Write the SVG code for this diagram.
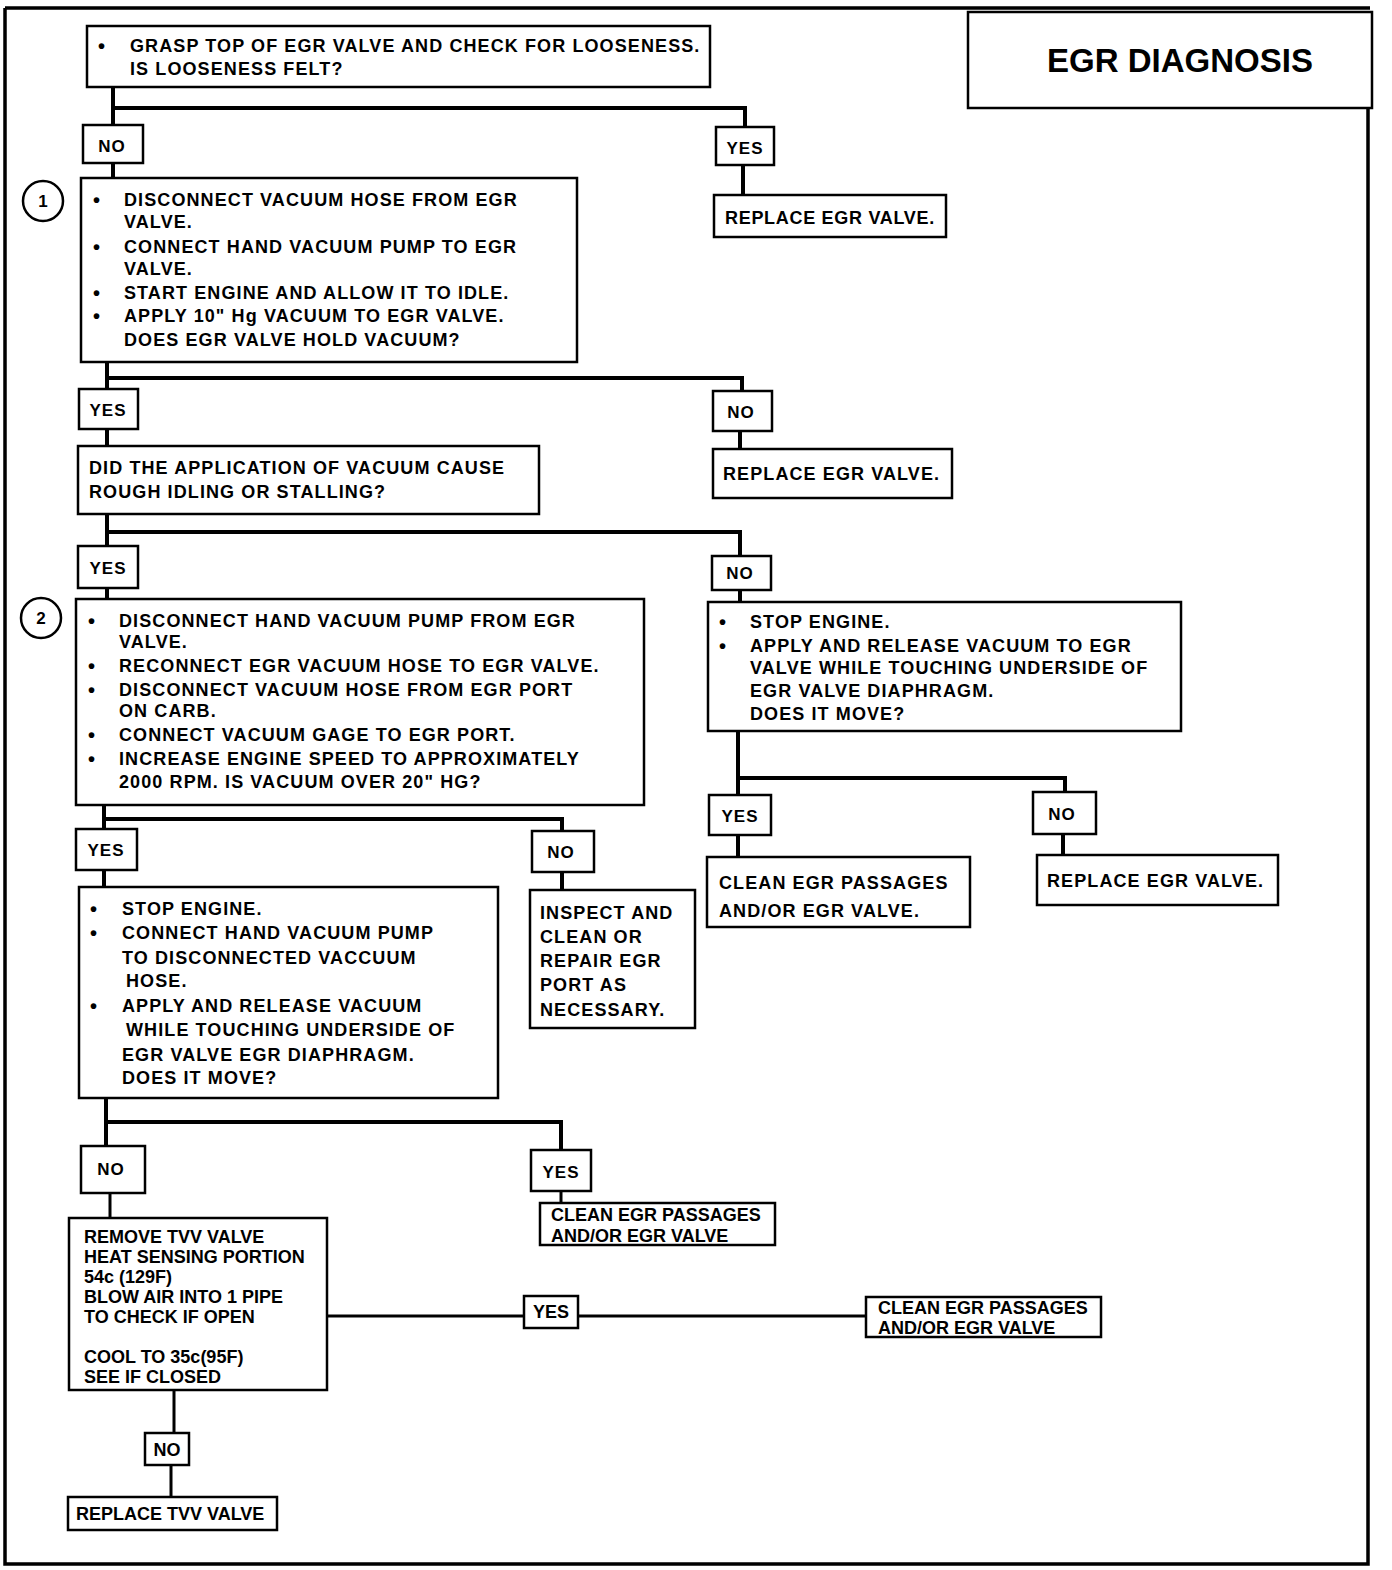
<svg xmlns="http://www.w3.org/2000/svg" width="1392" height="1570" viewBox="0 0 1392 1570">
<style>
.bx{fill:#fff;stroke:#000;stroke-width:2.5}
.lb{fill:#fff;stroke:#000;stroke-width:2.5}
.c{fill:none;stroke:#000;stroke-width:4}
.ct{fill:none;stroke:#000;stroke-width:3}
.t{font-family:"Liberation Sans",Arial,sans-serif;font-weight:bold;font-size:18px;letter-spacing:1.1px;fill:#000}
.b{font-family:"Liberation Sans",Arial,sans-serif;font-weight:bold;font-size:20px;fill:#000}
.l{font-family:"Liberation Sans",Arial,sans-serif;font-weight:bold;font-size:17px;letter-spacing:1px;fill:#000;text-anchor:middle}
.a{font-family:"Liberation Sans",Arial,sans-serif;font-weight:bold;font-size:18px;fill:#000}
.ttl{font-family:"Liberation Sans",Arial,sans-serif;font-weight:bold;font-size:33px;fill:#000;text-anchor:middle}
</style>
<rect width="1392" height="1570" fill="#fff"/>
<g id="frame">
<path d="M5,8 H1370 M5,8 V1564 H1368 V108" fill="none" stroke="#000" stroke-width="3.5"/>
</g>
<g id="title">
<rect x="968" y="12" width="404" height="96" fill="#fff" stroke="#000" stroke-width="2.5"/>
<text class="ttl" x="1180" y="72">EGR DIAGNOSIS</text>
</g>
<g id="connectors">
<path class="c" d="M113,87 V125 M113,108 H745 V127"/>
<path class="c" d="M743,165 V195"/>
<path class="c" d="M113,163 V178"/>
<path class="c" d="M107,362 V389 M107,378 H742 V391"/>
<path class="c" d="M740,431 V449"/>
<path class="c" d="M107,429 V446"/>
<path class="c" d="M107,514 V546 M107,532 H740 V556"/>
<path class="c" d="M107,588 V599"/>
<path class="c" d="M740,590 V602"/>
<path class="c" d="M738,731 V795 M738,778 H1065 V792"/>
<path class="c" d="M738,835 V857"/>
<path class="c" d="M1063,834 V855"/>
<path class="c" d="M104,805 V829 M104,819 H562 V831"/>
<path class="c" d="M562,872 V890"/>
<path class="c" d="M104,870 V887"/>
<path class="c" d="M106,1098 V1146 M106,1122 H561 V1150"/>
<path class="ct" d="M561,1191 V1203" stroke-width="2"/>
<path class="ct" d="M110,1193 V1218"/>
<path class="ct" d="M327,1316 H524 M578,1316 H866"/>
<path class="ct" d="M174,1390 V1433 M171,1465 V1497" stroke-width="2.5"/>
</g>
<g id="n1">
<rect class="bx" x="87" y="26" width="623" height="61"/>
<text class="b" x="98" y="53">•</text>
<text class="t" x="130" y="52">GRASP TOP OF EGR VALVE AND CHECK FOR LOOSENESS.</text>
<text class="t" x="130" y="75">IS LOOSENESS FELT?</text>
</g>
<g id="l1no"><rect class="lb" x="83" y="125" width="60" height="38"/><text class="l" x="112" y="152">NO</text></g>
<g id="l1yes"><rect class="lb" x="716" y="127" width="58" height="38"/><text class="l" x="745" y="154">YES</text></g>
<g id="n2">
<rect class="bx" x="714" y="195" width="232" height="42"/>
<text class="t" x="725" y="224" style="letter-spacing:0.7px">REPLACE EGR VALVE.</text>
</g>
<g id="n3">
<circle cx="43" cy="201" r="20" fill="#fff" stroke="#000" stroke-width="2.5"/>
<text class="l" x="43" y="207" style="letter-spacing:0">1</text>
<rect class="bx" x="81" y="178" width="496" height="184"/>
<text class="b" x="93" y="207">•</text><text class="t" x="124" y="206">DISCONNECT VACUUM HOSE FROM EGR</text>
<text class="t" x="124" y="228">VALVE.</text>
<text class="b" x="93" y="254">•</text><text class="t" x="124" y="253">CONNECT HAND VACUUM PUMP TO EGR</text>
<text class="t" x="124" y="275">VALVE.</text>
<text class="b" x="93" y="300">•</text><text class="t" x="124" y="299">START ENGINE AND ALLOW IT TO IDLE.</text>
<text class="b" x="93" y="323">•</text><text class="t" x="124" y="322">APPLY 10" Hg VACUUM TO EGR VALVE.</text>
<text class="t" x="124" y="346">DOES EGR VALVE HOLD VACUUM?</text>
</g>
<g id="l3yes"><rect class="lb" x="79" y="389" width="59" height="40"/><text class="l" x="108" y="416">YES</text></g>
<g id="l3no"><rect class="lb" x="713" y="391" width="59" height="40"/><text class="l" x="741" y="418">NO</text></g>
<g id="n4">
<rect class="bx" x="713" y="449" width="239" height="49"/>
<text class="t" x="723" y="480">REPLACE EGR  VALVE.</text>
</g>
<g id="n5">
<rect class="bx" x="78" y="446" width="461" height="68"/>
<text class="t" x="89" y="474">DID THE APPLICATION OF VACUUM CAUSE</text>
<text class="t" x="89" y="498">ROUGH IDLING OR STALLING?</text>
</g>
<g id="l5yes"><rect class="lb" x="78" y="546" width="60" height="42"/><text class="l" x="108" y="574">YES</text></g>
<g id="l5no"><rect class="lb" x="712" y="556" width="59" height="34"/><text class="l" x="740" y="579">NO</text></g>
<g id="n6">
<circle cx="41" cy="618" r="20" fill="#fff" stroke="#000" stroke-width="2.5"/>
<text class="l" x="41" y="624" style="letter-spacing:0">2</text>
<rect class="bx" x="76" y="599" width="568" height="206"/>
<text class="b" x="88" y="628">•</text><text class="t" x="119" y="627">DISCONNECT HAND VACUUM PUMP FROM EGR</text>
<text class="t" x="119" y="648">VALVE.</text>
<text class="b" x="88" y="673">•</text><text class="t" x="119" y="672">RECONNECT EGR VACUUM HOSE TO EGR VALVE.</text>
<text class="b" x="88" y="697">•</text><text class="t" x="119" y="696">DISCONNECT VACUUM HOSE FROM EGR PORT</text>
<text class="t" x="119" y="717">ON CARB.</text>
<text class="b" x="88" y="742">•</text><text class="t" x="119" y="741">CONNECT VACUUM GAGE TO EGR PORT.</text>
<text class="b" x="88" y="766">•</text><text class="t" x="119" y="765">INCREASE ENGINE SPEED TO APPROXIMATELY</text>
<text class="t" x="119" y="788">2000 RPM. IS VACUUM OVER 20" HG?</text>
</g>
<g id="n7">
<rect class="bx" x="708" y="602" width="473" height="129"/>
<text class="b" x="719" y="629">•</text><text class="t" x="750" y="628">STOP ENGINE.</text>
<text class="b" x="719" y="653">•</text><text class="t" x="750" y="652">APPLY AND RELEASE VACUUM TO EGR</text>
<text class="t" x="750" y="674">VALVE WHILE TOUCHING UNDERSIDE OF</text>
<text class="t" x="750" y="697">EGR VALVE DIAPHRAGM.</text>
<text class="t" x="750" y="720">DOES IT MOVE?</text>
</g>
<g id="l7yes"><rect class="lb" x="709" y="795" width="62" height="40"/><text class="l" x="740" y="822">YES</text></g>
<g id="l7no"><rect class="lb" x="1033" y="792" width="63" height="42"/><text class="l" x="1062" y="820">NO</text></g>
<g id="n8">
<rect class="bx" x="707" y="857" width="263" height="70"/>
<text class="t" x="719" y="889">CLEAN EGR PASSAGES</text>
<text class="t" x="719" y="917">AND/OR EGR VALVE.</text>
</g>
<g id="n9">
<rect class="bx" x="1037" y="855" width="241" height="50"/>
<text class="t" x="1047" y="887">REPLACE EGR  VALVE.</text>
</g>
<g id="l6yes"><rect class="lb" x="76" y="829" width="61" height="41"/><text class="l" x="106" y="856">YES</text></g>
<g id="l6no"><rect class="lb" x="532" y="831" width="62" height="41"/><text class="l" x="561" y="858">NO</text></g>
<g id="n10">
<rect class="bx" x="530" y="890" width="165" height="138"/>
<text class="t" x="540" y="919">INSPECT AND</text>
<text class="t" x="540" y="943">CLEAN OR</text>
<text class="t" x="540" y="967">REPAIR EGR</text>
<text class="t" x="540" y="991">PORT AS</text>
<text class="t" x="540" y="1016">NECESSARY.</text>
</g>
<g id="n11">
<rect class="bx" x="79" y="887" width="419" height="211"/>
<text class="b" x="90" y="916">•</text><text class="t" x="122" y="915">STOP ENGINE.</text>
<text class="b" x="90" y="940">•</text><text class="t" x="122" y="939">CONNECT HAND VACUUM PUMP</text>
<text class="t" x="122" y="964">TO DISCONNECTED VACCUUM</text>
<text class="t" x="126" y="987">HOSE.</text>
<text class="b" x="90" y="1013">•</text><text class="t" x="122" y="1012">APPLY AND RELEASE VACUUM</text>
<text class="t" x="126" y="1036">WHILE  TOUCHING UNDERSIDE  OF</text>
<text class="t" x="122" y="1061">EGR VALVE  EGR DIAPHRAGM.</text>
<text class="t" x="122" y="1084">DOES IT MOVE?</text>
</g>
<g id="l11no"><rect class="lb" x="81" y="1146" width="64" height="47"/><text class="l" x="111" y="1175">NO</text></g>
<g id="l11yes"><rect class="lb" x="531" y="1150" width="60" height="41"/><text class="l" x="561" y="1178">YES</text></g>
<g id="n12">
<rect class="bx" x="540" y="1203" width="235" height="42"/>
<text class="a" x="551" y="1221">CLEAN EGR PASSAGES</text>
<text class="a" x="551" y="1242">AND/OR EGR VALVE</text>
</g>
<g id="n13">
<rect class="bx" x="69" y="1218" width="258" height="172"/>
<text class="a" x="84" y="1243">REMOVE TVV VALVE</text>
<text class="a" x="84" y="1263">HEAT SENSING PORTION</text>
<text class="a" x="84" y="1283">54c (129F)</text>
<text class="a" x="84" y="1303">BLOW AIR INTO 1 PIPE</text>
<text class="a" x="84" y="1323">TO CHECK IF OPEN</text>
<text class="a" x="84" y="1363">COOL TO 35c(95F)</text>
<text class="a" x="84" y="1383">SEE IF CLOSED</text>
</g>
<g id="l13yes"><rect class="lb" x="524" y="1296" width="54" height="32"/><text class="a" x="551" y="1318" text-anchor="middle">YES</text></g>
<g id="n14">
<rect class="bx" x="866" y="1297" width="235" height="40"/>
<text class="a" x="878" y="1314">CLEAN EGR PASSAGES</text>
<text class="a" x="878" y="1334">AND/OR EGR VALVE</text>
</g>
<g id="l13no"><rect class="lb" x="145" y="1433" width="44" height="32"/><text class="a" x="167" y="1456" text-anchor="middle">NO</text></g>
<g id="n15">
<rect class="bx" x="68" y="1497" width="209" height="33"/>
<text class="a" x="76" y="1520">REPLACE TVV VALVE</text>
</g>
</svg>
